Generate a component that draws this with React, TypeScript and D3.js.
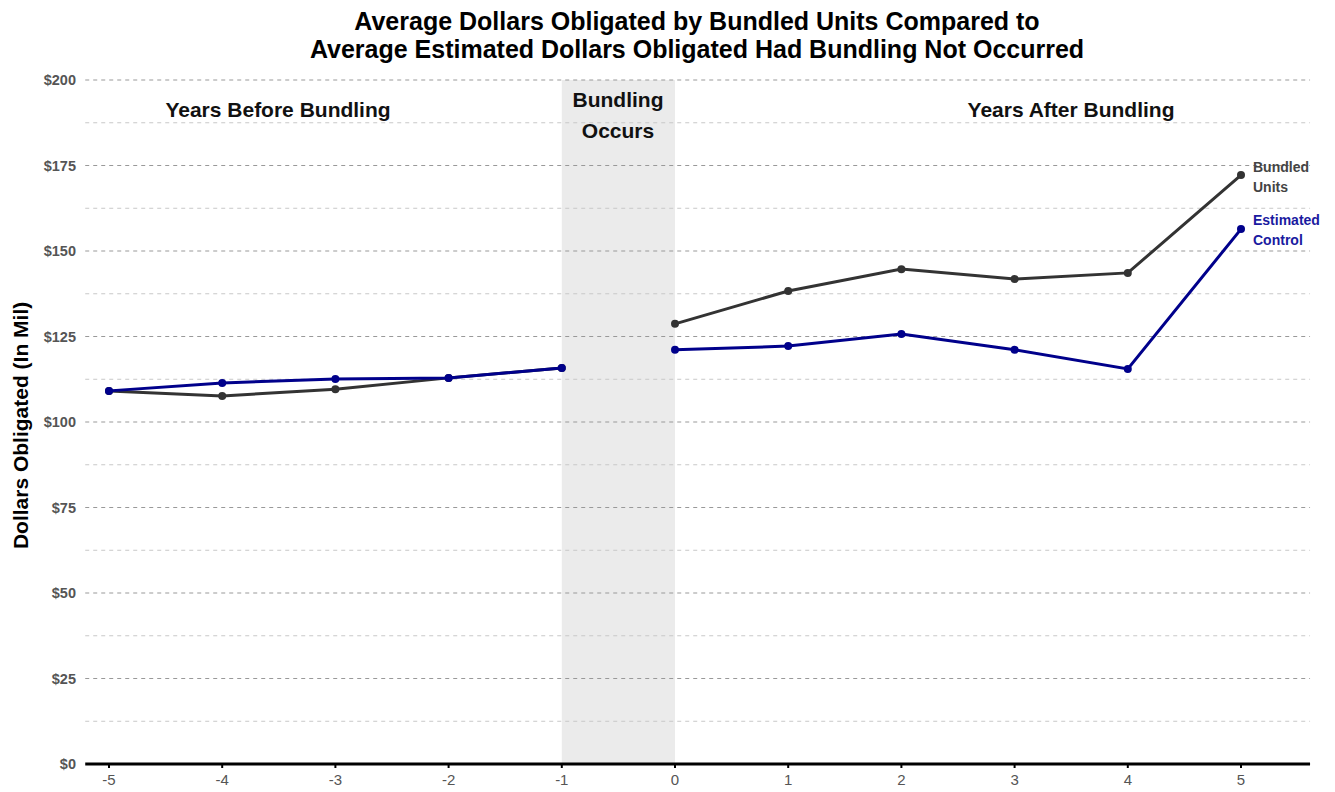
import React from "react";
import * as d3 from "d3";

const years = [-5, -4, -3, -2, -1, 0, 1, 2, 3, 4, 5];
const bundled = [109.1, 107.6, 109.6, 112.9, 115.8, 128.7, 138.3, 144.7, 141.8, 143.6, 172.2];
const control = [109.1, 111.4, 112.6, 112.9, 115.8, 121.1, 122.2, 125.7, 121.1, 115.5, 156.4];
const yMajor = [0, 25, 50, 75, 100, 125, 150, 175, 200];
const yMinor = [12.5, 37.5, 62.5, 87.5, 112.5, 137.5, 162.5, 187.5];

const W = 1335, H = 792;
const FONT = "'Liberation Sans', Arial, sans-serif";

export default function App() {
  const x = d3.scaleLinear().domain([-5, 5]).range([109, 1241]);
  const y = d3.scaleLinear().domain([0, 200]).range([764, 80]);
  const x0 = x(-5.21), x1 = x(5.61);
  const linePre = d3.line<number>().x((_, i) => x(years[i])).y((d) => y(d));
  const linePost = d3.line<number>().x((_, i) => x(years[i + 5])).y((d) => y(d));
  const series = [
    { vals: bundled, color: "#333333" },
    { vals: control, color: "#00008B" },
  ];
  return (
    <svg width={W} height={H} style={{ position: "absolute", left: 0, top: 0, background: "#fff" }} fontFamily={FONT}>
      <rect x={x(-1)} y={y(200)} width={x(0) - x(-1)} height={y(0) - y(200)} fill="#EBEBEB" />
      {yMinor.map((v) => (
        <line key={"mi" + v} x1={x0} x2={x1} y1={y(v)} y2={y(v)} stroke="#c8c8c8" strokeWidth={1} strokeDasharray="4,4" />
      ))}
      {yMajor.filter((v) => v > 0).map((v) => (
        <line key={"ma" + v} x1={x0} x2={x1} y1={y(v)} y2={y(v)} stroke="#999" strokeWidth={1} strokeDasharray="4,4" />
      ))}
      {yMajor.map((v) => (
        <text key={"yl" + v} x={76} y={y(v)} dy="0.35em" textAnchor="end" fontSize={14.5} fontWeight="bold" fill="#555">
          ${v}
        </text>
      ))}
      <line x1={x0} x2={x1} y1={y(0)} y2={y(0)} stroke="#000" strokeWidth={3} />
      {years.map((v) => (
        <g key={"xt" + v}>
          <line x1={x(v)} x2={x(v)} y1={y(0)} y2={y(0) + 4} stroke="#000" strokeWidth={2} />
          <text x={x(v)} y={y(0) + 21} textAnchor="middle" fontSize={15} fill="#555">
            {v}
          </text>
        </g>
      ))}
      {series.map((s, k) => (
        <g key={"s" + k}>
          <path d={linePre(s.vals.slice(0, 5)) || ""} fill="none" stroke={s.color} strokeWidth={3} />
          <path d={linePost(s.vals.slice(5)) || ""} fill="none" stroke={s.color} strokeWidth={3} />
          {s.vals.map((v, i) => (
            <circle key={i} cx={x(years[i])} cy={y(v)} r={4} fill={s.color} />
          ))}
        </g>
      ))}
      <text fontSize={14} fontWeight="bold" fill="#444">
        <tspan x={1253} y={172}>Bundled</tspan>
        <tspan x={1253} y={192}>Units</tspan>
      </text>
      <text fontSize={14} fontWeight="bold" fill="#1a1aa0">
        <tspan x={1253} y={225}>Estimated</tspan>
        <tspan x={1253} y={245}>Control</tspan>
      </text>
      <text x={278} y={117} textAnchor="middle" fontSize={21} fontWeight="bold" fill="#111">Years Before Bundling</text>
      <text x={1071} y={117} textAnchor="middle" fontSize={21} fontWeight="bold" fill="#111">Years After Bundling</text>
      <text x={618} y={107} textAnchor="middle" fontSize={21} fontWeight="bold" fill="#111">Bundling</text>
      <text x={618} y={138} textAnchor="middle" fontSize={21} fontWeight="bold" fill="#111">Occurs</text>
      <text x={697} y={30} textAnchor="middle" fontSize={25} fontWeight="bold" fill="#000">
        Average Dollars Obligated by Bundled Units Compared to
      </text>
      <text x={697} y={58} textAnchor="middle" fontSize={25} fontWeight="bold" fill="#000">
        Average Estimated Dollars Obligated Had Bundling Not Occurred
      </text>
      <text transform={`translate(28,${y(99)}) rotate(-90)`} textAnchor="middle" fontSize={21} fontWeight="bold" fill="#000">
        Dollars Obligated (In Mil)
      </text>
    </svg>
  );
}
